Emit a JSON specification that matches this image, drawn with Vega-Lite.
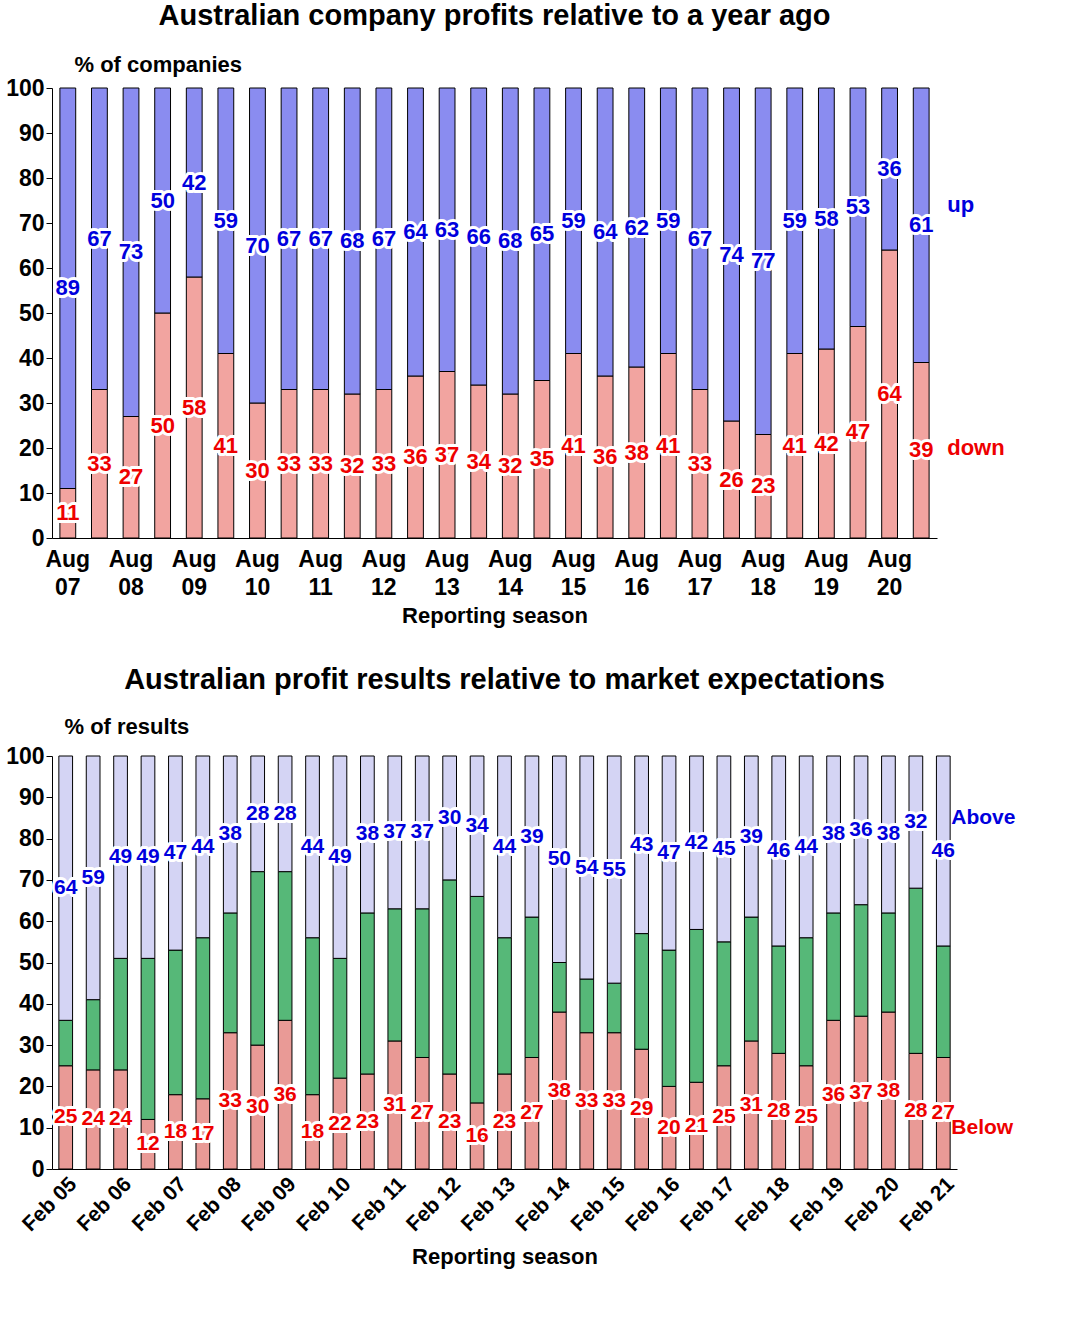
{
"$schema":"https://vega.github.io/schema/vega-lite/v6.json",
"background":"white",
"padding":{"left":5,"top":2,"right":5,"bottom":5},
"config":{"font":"Liberation Sans","view":{"stroke":null},
 "axis":{"labelFont":"Liberation Sans","labelFontWeight":"bold","labelFontSize":23,"labelColor":"black","labelOverlap":false,"titleFont":"Liberation Sans","titleFontWeight":"bold","titleFontSize":22,"titleColor":"black","domainColor":"black","tickColor":"black","grid":false},
 "title":{"font":"Liberation Sans","fontSize":29,"fontWeight":"bold","color":"black"}},
"spacing":40,
"vconcat":[
{
"title":{"text":"Australian company profits relative to a year ago","anchor":"middle","offset":22},
"width":885,"height":450,
"data":{"values":[
{"s":"Aug 07","down":11,"up":89},{"s":"Feb 08","down":33,"up":67},{"s":"Aug 08","down":27,"up":73},{"s":"Feb 09","down":50,"up":50},{"s":"Aug 09","down":58,"up":42},{"s":"Feb 10","down":41,"up":59},{"s":"Aug 10","down":30,"up":70},{"s":"Feb 11","down":33,"up":67},{"s":"Aug 11","down":33,"up":67},{"s":"Feb 12","down":32,"up":68},{"s":"Aug 12","down":33,"up":67},{"s":"Feb 13","down":36,"up":64},{"s":"Aug 13","down":37,"up":63},{"s":"Feb 14","down":34,"up":66},{"s":"Aug 14","down":32,"up":68},{"s":"Feb 15","down":35,"up":65},{"s":"Aug 15","down":41,"up":59},{"s":"Feb 16","down":36,"up":64},{"s":"Aug 16","down":38,"up":62},{"s":"Feb 17","down":41,"up":59},{"s":"Aug 17","down":33,"up":67},{"s":"Feb 18","down":26,"up":74},{"s":"Aug 18","down":23,"up":77},{"s":"Feb 19","down":41,"up":59},{"s":"Aug 19","down":42,"up":58},{"s":"Feb 20","down":47,"up":53},{"s":"Aug 20","down":64,"up":36},{"s":"Feb 21","down":39,"up":61}]},
"transform":[{"fold":["down","up"],"as":["k","v"]},{"calculate":"datum.k=='down'?0:1","as":"o"},
 {"calculate":"datum.k=='down'?'#f2a4a0':'#8a8cf0'","as":"fc"},{"calculate":"datum.k=='down'?'#ee0000':'#0000dd'","as":"tc"},
 {"stack":"v","groupby":["s"],"sort":[{"field":"o"}],"as":["y0","y1"]},{"calculate":"(datum.y0+datum.y1)/2","as":"ym"}],
"encoding":{"x":{"field":"s","type":"nominal","sort":null,"scale":{"paddingInner":0.5,"paddingOuter":0.25},
 "axis":{"title":"Reporting season","labelAngle":0,"labelExpr":"indexof(datum.value,'Aug')==0 ? split(datum.value,' ') : ''","ticks":false,"labelPadding":10,"labelLineHeight":28,"titlePadding":6}}},
"layer":[
{"mark":{"type":"bar","stroke":"black","strokeWidth":1},
 "encoding":{"y":{"field":"y0","type":"quantitative","scale":{"domain":[0,100]},
   "axis":{"values":[0,10,20,30,40,50,60,70,80,90,100],"title":"% of companies","titleAngle":0,"titleAlign":"left","titleX":22,"titleY":-12,"tickSize":6}},
  "y2":{"field":"y1"},
  "color":{"field":"fc","type":"nominal","scale":null}}},
{"mark":{"type":"text","fontSize":22,"fontWeight":"bold","stroke":"white","strokeWidth":6,"strokeJoin":"round","color":"white"},
 "encoding":{"y":{"field":"ym","type":"quantitative"},"text":{"field":"v"}}},
{"mark":{"type":"text","fontSize":22,"fontWeight":"bold"},
 "encoding":{"y":{"field":"ym","type":"quantitative"},"text":{"field":"v"},
  "color":{"field":"tc","type":"nominal","scale":null}}},
{"transform":[{"filter":"datum.s=='Feb 21'"},{"calculate":"datum.k=='down'?20:74","as":"lp"}],
 "mark":{"type":"text","fontSize":22,"fontWeight":"bold","align":"left","dx":26},
 "encoding":{"y":{"field":"lp","type":"quantitative"},"text":{"field":"k"},
  "color":{"field":"tc","type":"nominal","scale":null}}}
]},
{
"title":{"text":"Australian profit results relative to market expectations","anchor":"middle","offset":20},
"width":905,"height":413,
"data":{"values":[
{"s":"Feb 05","b":25,"m":11,"a":64},{"s":"Aug 05","b":24,"m":17,"a":59},{"s":"Feb 06","b":24,"m":27,"a":49},{"s":"Aug 06","b":12,"m":39,"a":49},{"s":"Feb 07","b":18,"m":35,"a":47},{"s":"Aug 07","b":17,"m":39,"a":44},{"s":"Feb 08","b":33,"m":29,"a":38},{"s":"Aug 08","b":30,"m":42,"a":28},{"s":"Feb 09","b":36,"m":36,"a":28},{"s":"Aug 09","b":18,"m":38,"a":44},{"s":"Feb 10","b":22,"m":29,"a":49},{"s":"Aug 10","b":23,"m":39,"a":38},{"s":"Feb 11","b":31,"m":32,"a":37},{"s":"Aug 11","b":27,"m":36,"a":37},{"s":"Feb 12","b":23,"m":47,"a":30},{"s":"Aug 12","b":16,"m":50,"a":34},{"s":"Feb 13","b":23,"m":33,"a":44},{"s":"Aug 13","b":27,"m":34,"a":39},{"s":"Feb 14","b":38,"m":12,"a":50},{"s":"Aug 14","b":33,"m":13,"a":54},{"s":"Feb 15","b":33,"m":12,"a":55},{"s":"Aug 15","b":29,"m":28,"a":43},{"s":"Feb 16","b":20,"m":33,"a":47},{"s":"Aug 16","b":21,"m":37,"a":42},{"s":"Feb 17","b":25,"m":30,"a":45},{"s":"Aug 17","b":31,"m":30,"a":39},{"s":"Feb 18","b":28,"m":26,"a":46},{"s":"Aug 18","b":25,"m":31,"a":44},{"s":"Feb 19","b":36,"m":26,"a":38},{"s":"Aug 19","b":37,"m":27,"a":36},{"s":"Feb 20","b":38,"m":24,"a":38},{"s":"Aug 20","b":28,"m":40,"a":32},{"s":"Feb 21","b":27,"m":27,"a":46}]},
"transform":[{"fold":["b","m","a"],"as":["k","v"]},{"calculate":"datum.k=='b'?0:datum.k=='m'?1:2","as":"o"},
 {"calculate":"datum.k=='b'?'#e99a96':datum.k=='m'?'#56b878':'#d4d4f4'","as":"fc"},{"calculate":"datum.k=='b'?'#ee0000':'#0000dd'","as":"tc"},
 {"stack":"v","groupby":["s"],"sort":[{"field":"o"}],"as":["y0","y1"]},{"calculate":"(datum.y0+datum.y1)/2","as":"ym"}],
"encoding":{"x":{"field":"s","type":"nominal","sort":null,"scale":{"paddingInner":0.5,"paddingOuter":0.25},
 "axis":{"title":"Reporting season","labelAngle":-45,"labelAlign":"right","labelBaseline":"top","labelExpr":"indexof(datum.value,'Feb')==0 ? datum.value : ''","labelFontSize":21,"ticks":false,"labelPadding":4,"titlePadding":12}}},
"layer":[
{"mark":{"type":"bar","stroke":"black","strokeWidth":1},
 "encoding":{"y":{"field":"y0","type":"quantitative","scale":{"domain":[0,100]},
   "axis":{"values":[0,10,20,30,40,50,60,70,80,90,100],"title":"% of results","titleAngle":0,"titleAlign":"left","titleX":12,"titleY":-18,"tickSize":6}},
  "y2":{"field":"y1"},
  "color":{"field":"fc","type":"nominal","scale":null}}},
{"transform":[{"filter":"datum.k!='m'"}],"mark":{"type":"text","fontSize":21,"fontWeight":"bold","stroke":"white","strokeWidth":6,"strokeJoin":"round","color":"white"},
 "encoding":{"y":{"field":"ym","type":"quantitative"},"text":{"field":"v"}}},
{"transform":[{"filter":"datum.k!='m'"}],"mark":{"type":"text","fontSize":21,"fontWeight":"bold"},
 "encoding":{"y":{"field":"ym","type":"quantitative"},"text":{"field":"v"},
  "color":{"field":"tc","type":"nominal","scale":null}}},
{"transform":[{"filter":"datum.s=='Feb 21' && datum.k!='m'"},{"calculate":"datum.k=='b'?'Below':'Above'","as":"lab"},{"calculate":"datum.k=='b'?10:85","as":"lp"}],
 "mark":{"type":"text","fontSize":21,"fontWeight":"bold","align":"left","dx":8},
 "encoding":{"y":{"field":"lp","type":"quantitative"},"text":{"field":"lab"},
  "color":{"field":"tc","type":"nominal","scale":null}}}
]}
]}
